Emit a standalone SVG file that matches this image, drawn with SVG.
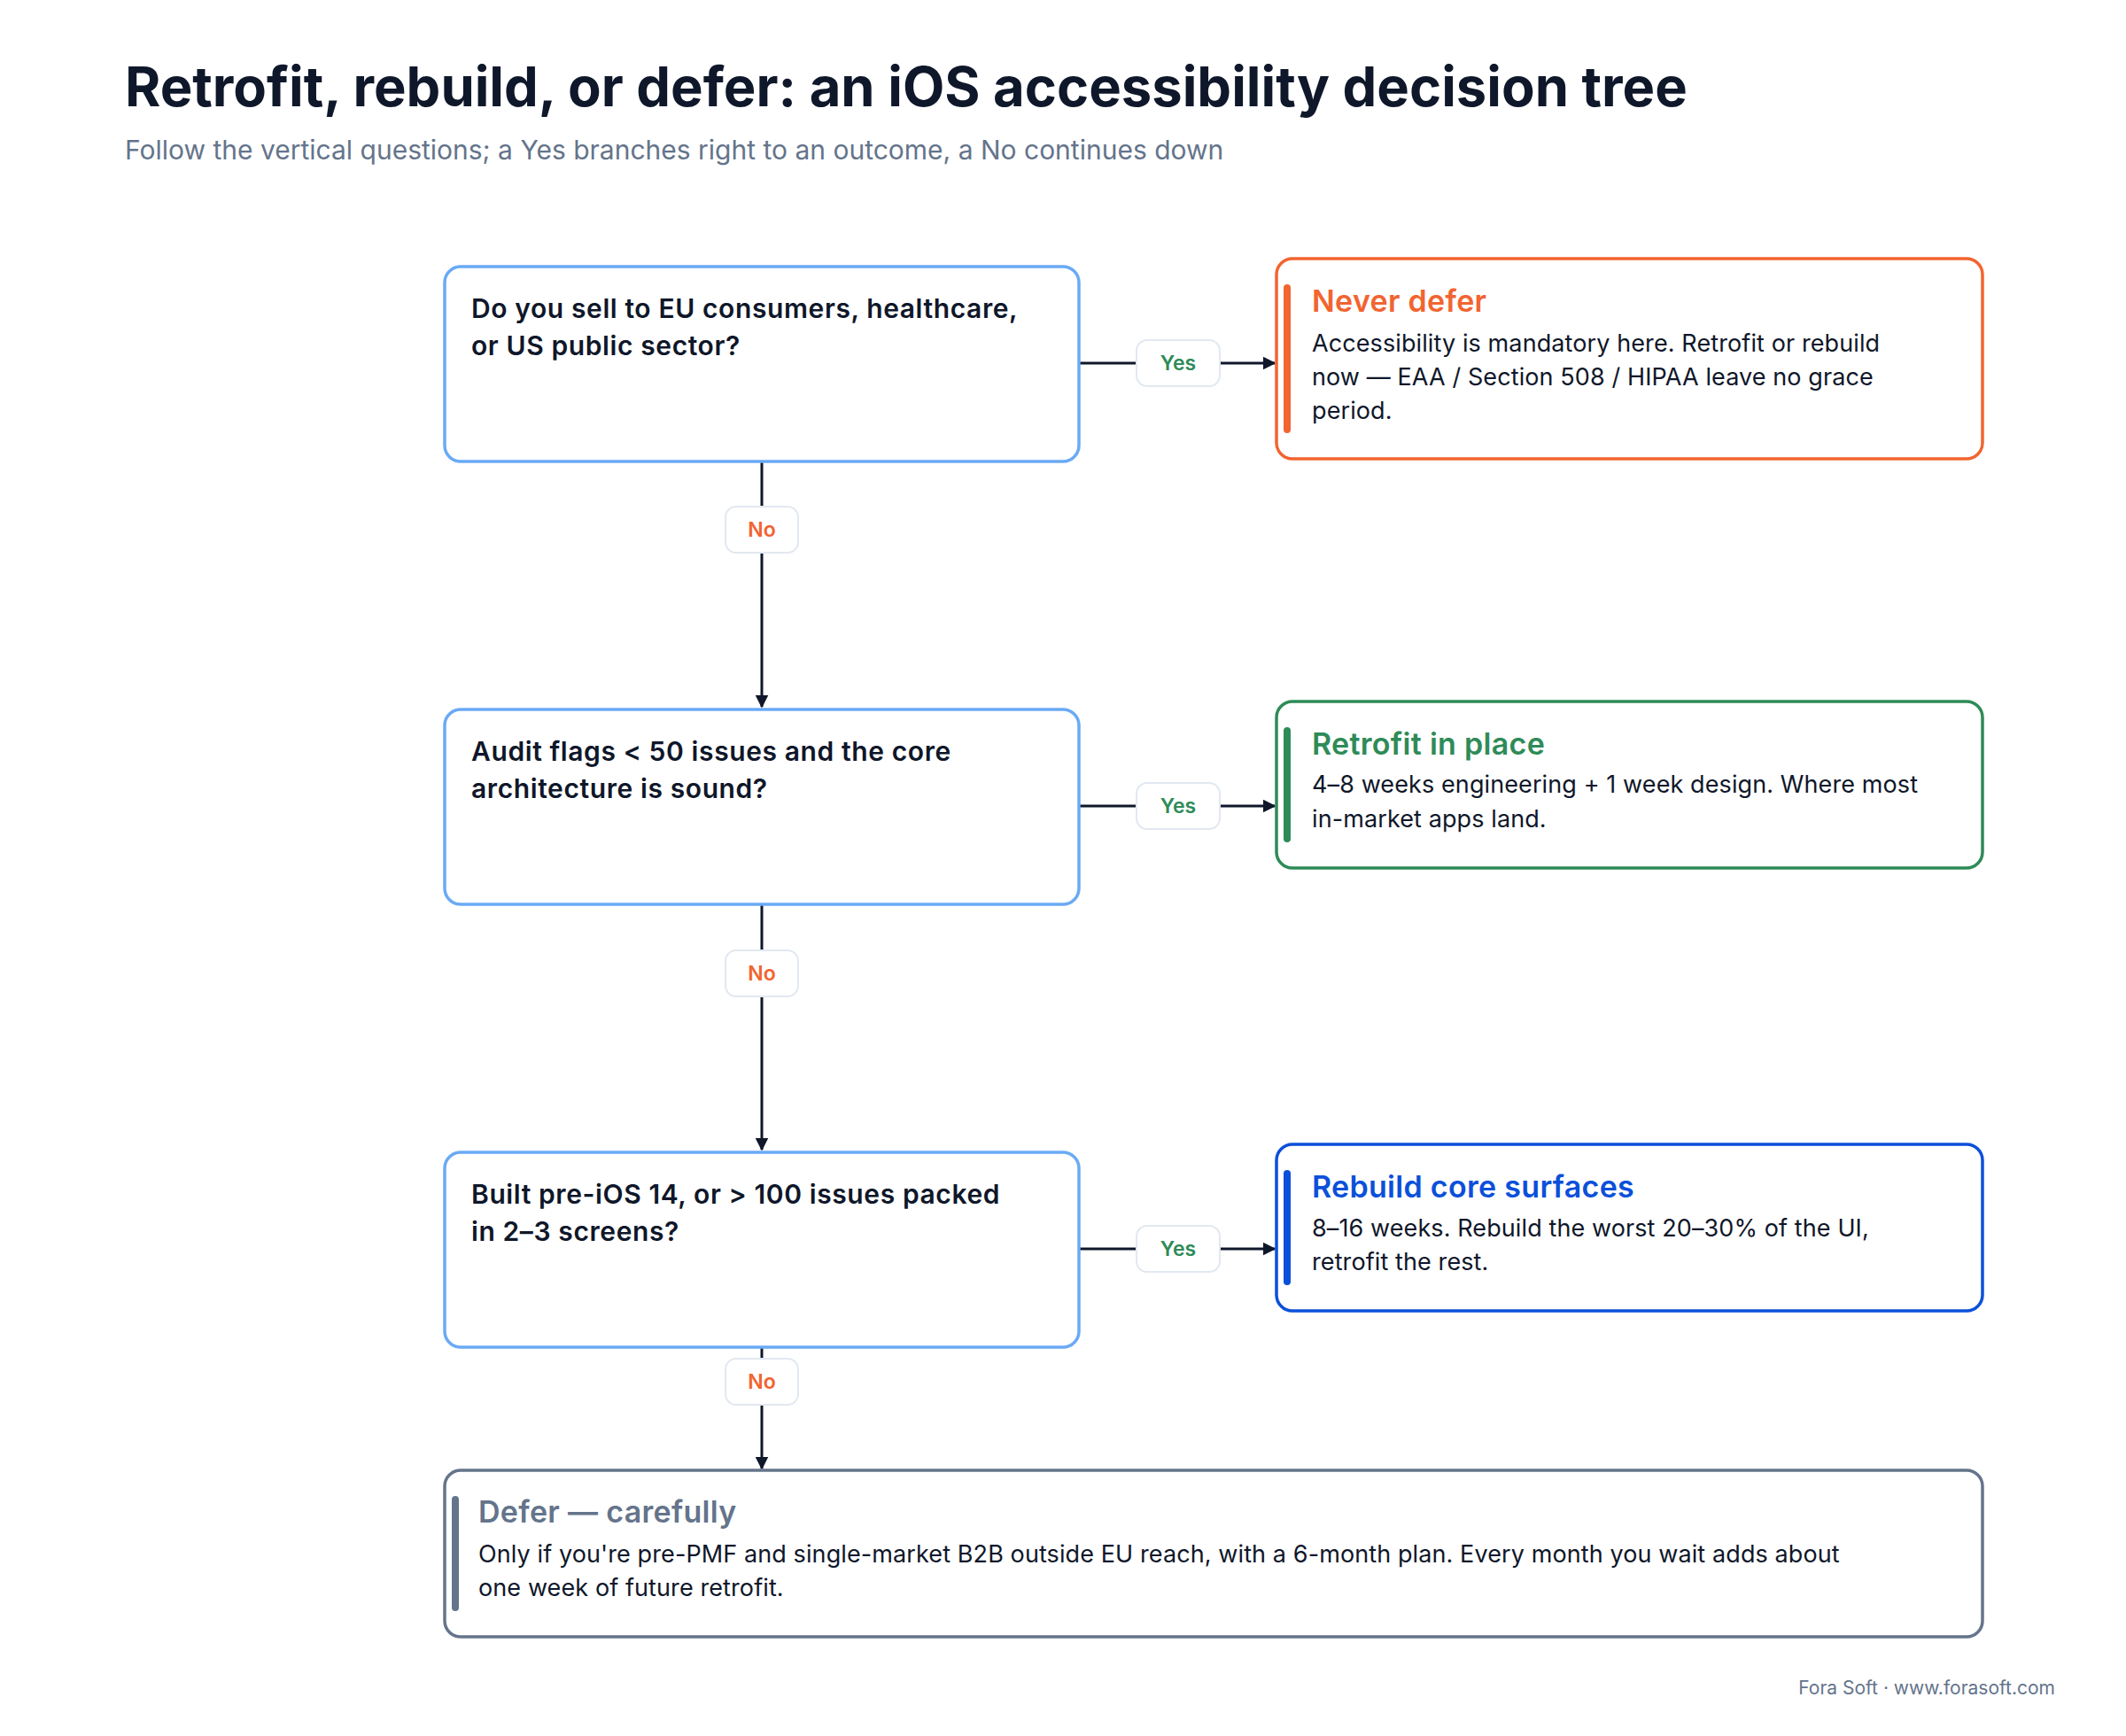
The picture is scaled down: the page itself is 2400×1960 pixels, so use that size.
<svg xmlns="http://www.w3.org/2000/svg" width="2400" height="1960" viewBox="0 0 2400 1960">
<style>
text{font-family:Inter,"Noto Sans","Liberation Sans",sans-serif}
.q{fill:#fff;stroke:#6aaaf5;stroke-width:3.5}
.qt{font-size:30px;font-weight:600;fill:#0f172a;letter-spacing:0.6px}
.ot{font-size:34px;font-weight:600;letter-spacing:0.3px}
.ob{font-size:27px;fill:#0f172a;letter-spacing:0.1px}
.pill{fill:#fff;stroke:#e2e8f0;stroke-width:2}
.pt{font-size:23px;font-weight:600;text-anchor:middle}
.ln{stroke:#0f172a;stroke-width:3;fill:none}
</style>
<defs><marker id="ah" viewBox="0 0 10 10" refX="9" refY="5" markerWidth="5" markerHeight="5" orient="auto"><path d="M0,0L10,5L0,10z" fill="#0f172a"/></marker></defs>
<rect width="2400" height="1960" fill="#fff"/>
<text x="141" y="120" font-size="61.5" font-weight="700" fill="#0f172a">Retrofit, rebuild, or defer: an iOS accessibility decision tree</text>
<text x="141" y="180" font-size="30" fill="#64748b">Follow the vertical questions; a Yes branches right to an outcome, a No continues down</text>
<g id="connectors">
<path class="ln" d="M1218,410H1283M1377,410H1439" marker-end="url(#ah)"/>
<path class="ln" d="M1218,910H1283M1377,910H1439" marker-end="url(#ah)"/>
<path class="ln" d="M1218,1410H1283M1377,1410H1439" marker-end="url(#ah)"/>
<path class="ln" d="M860,521V798" marker-end="url(#ah)"/>
<path class="ln" d="M860,1021V1298" marker-end="url(#ah)"/>
<path class="ln" d="M860,1521V1658" marker-end="url(#ah)"/>
<rect class="pill" x="1283" y="384" width="94" height="52" rx="12"/><text class="pt" x="1330" y="418" fill="#2e8b57">Yes</text>
<rect class="pill" x="1283" y="884" width="94" height="52" rx="12"/><text class="pt" x="1330" y="918" fill="#2e8b57">Yes</text>
<rect class="pill" x="1283" y="1384" width="94" height="52" rx="12"/><text class="pt" x="1330" y="1418" fill="#2e8b57">Yes</text>
<rect class="pill" x="819" y="572" width="82" height="52" rx="12"/><text class="pt" x="860" y="606" fill="#f26430">No</text>
<rect class="pill" x="819" y="1073" width="82" height="52" rx="12"/><text class="pt" x="860" y="1107" fill="#f26430">No</text>
<rect class="pill" x="819" y="1534" width="82" height="52" rx="12"/><text class="pt" x="860" y="1568" fill="#f26430">No</text>
</g>
<g id="q1"><rect class="q" x="502" y="301" width="716" height="220" rx="18"/>
<text class="qt" x="532" y="359">Do you sell to EU consumers, healthcare,</text><text class="qt" x="532" y="401">or US public sector?</text></g>
<g id="q2"><rect class="q" x="502" y="801" width="716" height="220" rx="18"/>
<text class="qt" x="532" y="859">Audit flags &lt; 50 issues and the core</text><text class="qt" x="532" y="901">architecture is sound?</text></g>
<g id="q3"><rect class="q" x="502" y="1301" width="716" height="220" rx="18"/>
<text class="qt" x="532" y="1359">Built pre-iOS 14, or &gt; 100 issues packed</text><text class="qt" x="532" y="1401">in 2–3 screens?</text></g>
<g id="never"><rect x="1441" y="292" width="797" height="226" rx="18" fill="#fff" stroke="#f26430" stroke-width="3.5"/>
<rect x="1449" y="321" width="8" height="168" rx="4" fill="#f26430"/>
<text class="ot" x="1481" y="352" fill="#f26430">Never defer</text>
<text class="ob" x="1481" y="397">Accessibility is mandatory here. Retrofit or rebuild</text>
<text class="ob" x="1481" y="435">now — EAA / Section 508 / HIPAA leave no grace</text>
<text class="ob" x="1481" y="473">period.</text></g>
<g id="retrofit"><rect x="1441" y="792" width="797" height="188" rx="18" fill="#fff" stroke="#2e8b57" stroke-width="3.5"/>
<rect x="1449" y="821" width="8" height="130" rx="4" fill="#2e8b57"/>
<text class="ot" x="1481" y="852" fill="#2e8b57">Retrofit in place</text>
<text class="ob" x="1481" y="895">4–8 weeks engineering + 1 week design. Where most</text>
<text class="ob" x="1481" y="934">in-market apps land.</text></g>
<g id="rebuild"><rect x="1441" y="1292" width="797" height="188" rx="18" fill="#fff" stroke="#0b50da" stroke-width="3.5"/>
<rect x="1449" y="1321" width="8" height="130" rx="4" fill="#0b50da"/>
<text class="ot" x="1481" y="1352" fill="#0b50da">Rebuild core surfaces</text>
<text class="ob" x="1481" y="1396">8–16 weeks. Rebuild the worst 20–30% of the UI,</text>
<text class="ob" x="1481" y="1434">retrofit the rest.</text></g>
<g id="defer"><rect x="502" y="1660" width="1736" height="188" rx="18" fill="#fff" stroke="#64748b" stroke-width="3.5"/>
<rect x="510" y="1689" width="8" height="130" rx="4" fill="#64748b"/>
<text class="ot" x="540" y="1719" fill="#64748b">Defer — carefully</text>
<text class="ob" x="540" y="1764">Only if you're pre-PMF and single-market B2B outside EU reach, with a 6-month plan. Every month you wait adds about</text>
<text class="ob" x="540" y="1802">one week of future retrofit.</text></g>
<text x="2320" y="1913" font-size="21" fill="#64748b" text-anchor="end">Fora Soft · www.forasoft.com</text>
</svg>
